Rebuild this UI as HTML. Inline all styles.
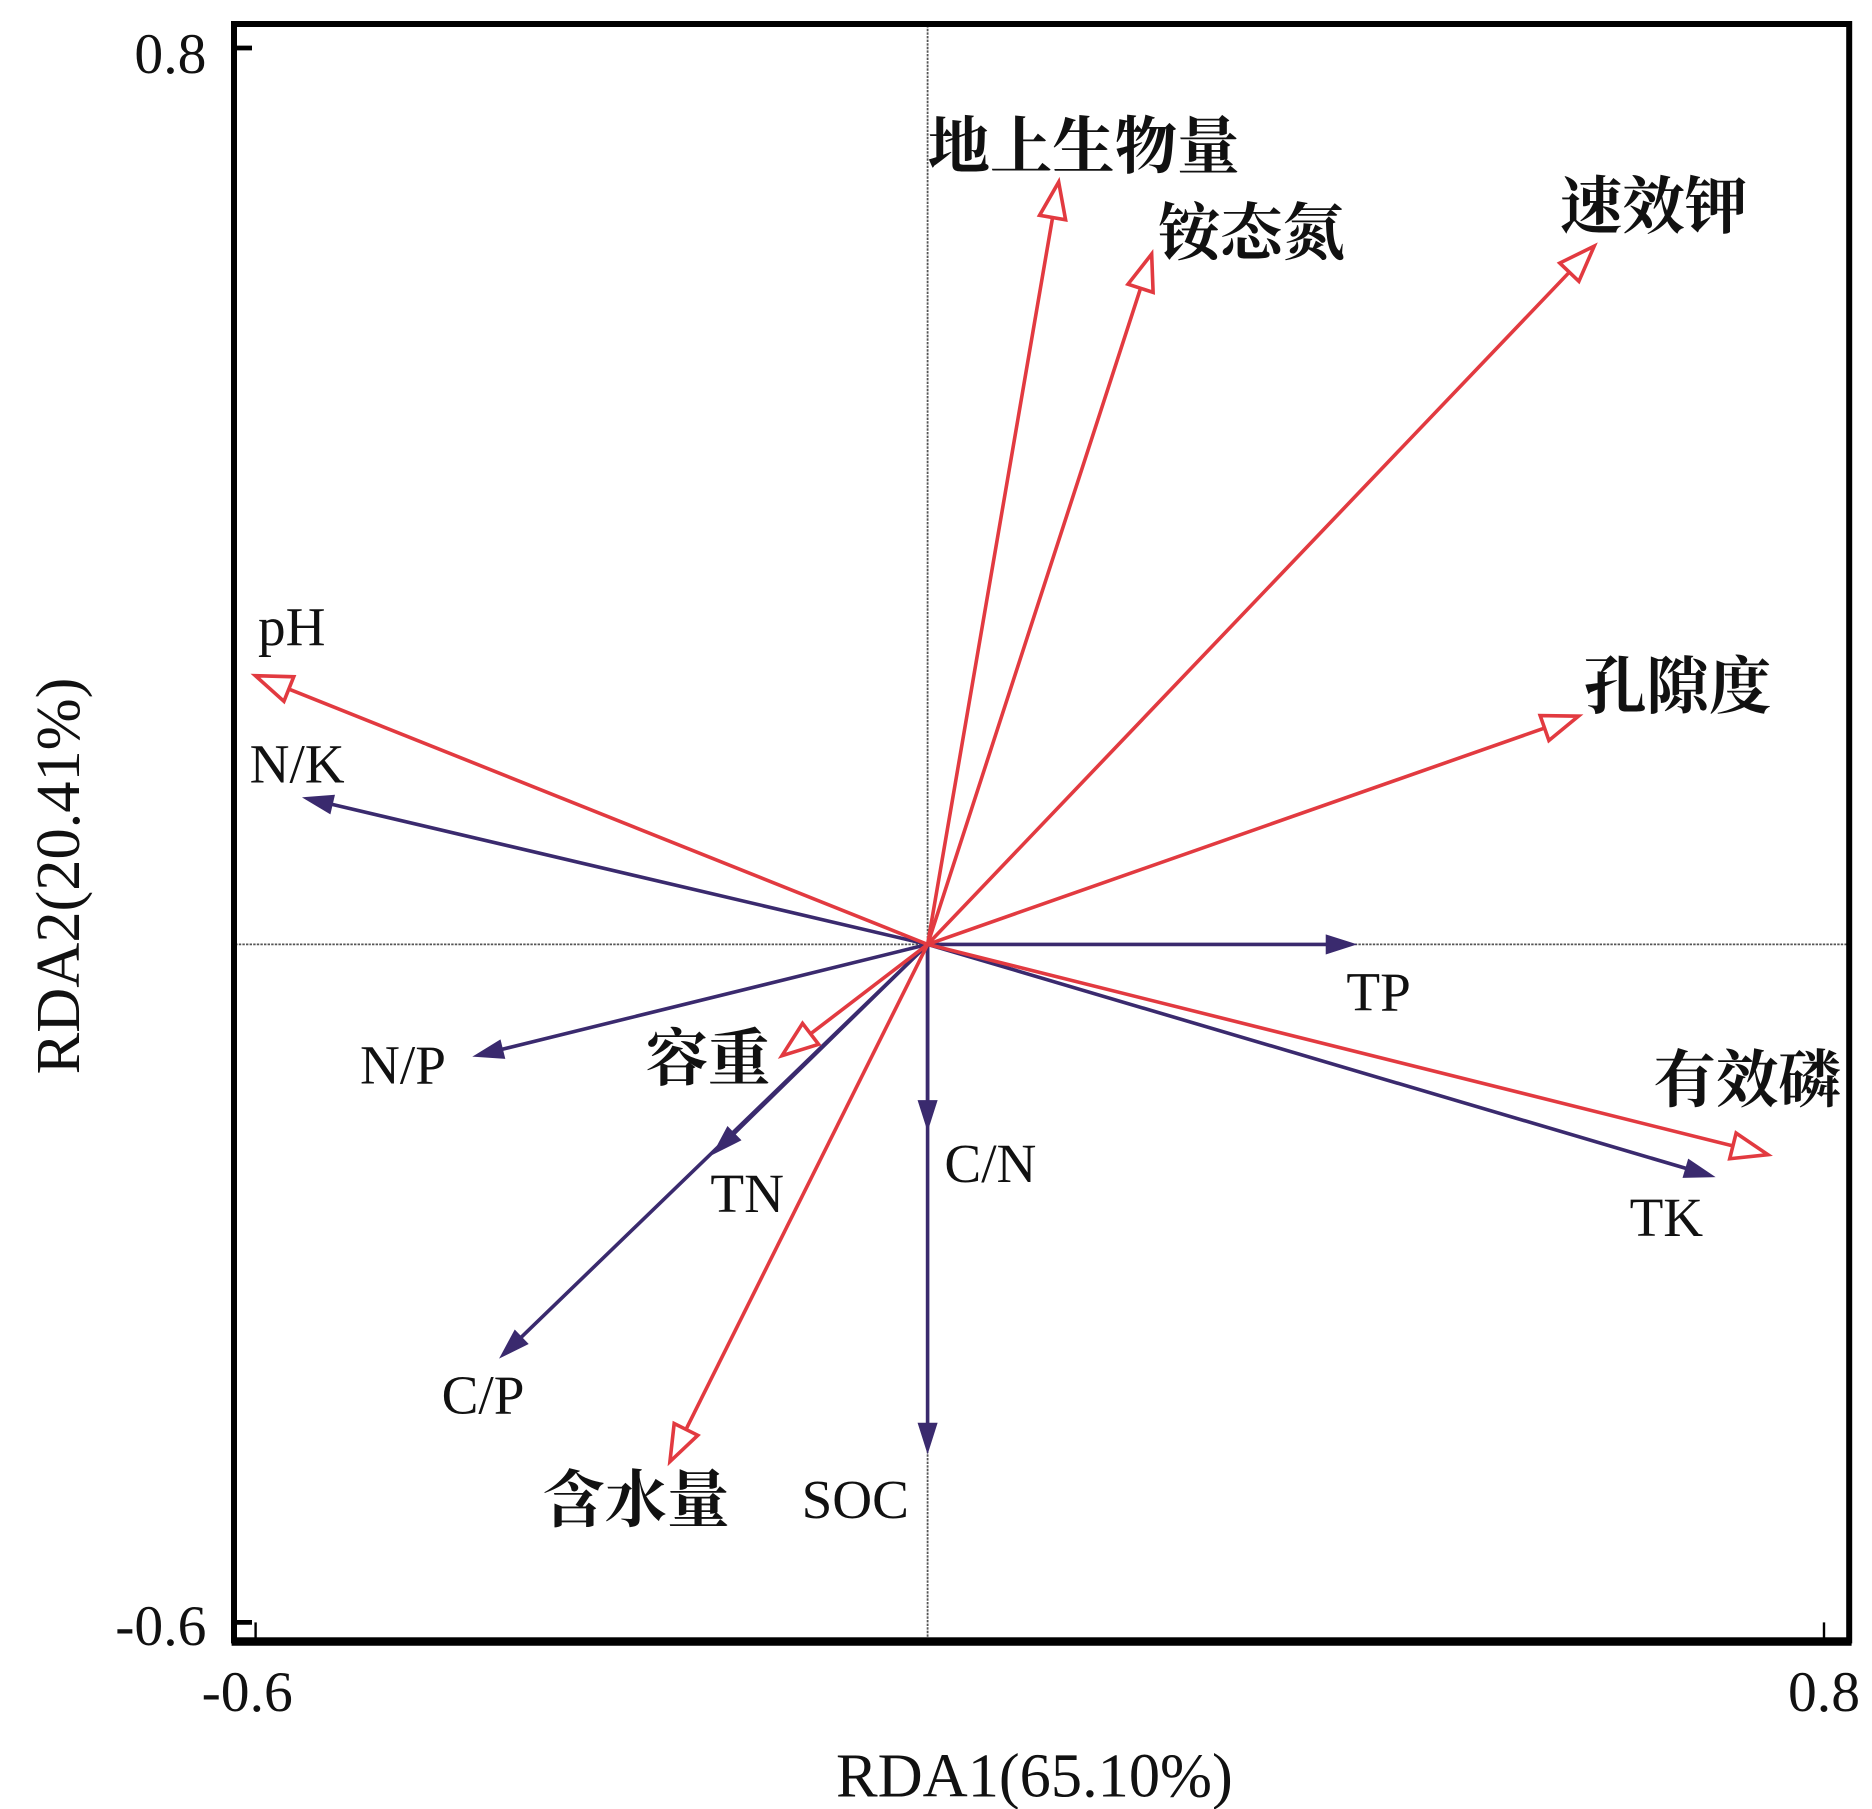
<!DOCTYPE html>
<html><head><meta charset="utf-8"><style>
html,body{margin:0;padding:0;background:#fff}
svg{display:block}
text{font-family:"Liberation Serif","Noto Serif CJK SC",serif;fill:#111}
.cjk{font-family:"Liberation Serif","Noto Serif CJK SC",serif;font-weight:700}
</style></head><body>
<svg id="chart" width="1872" height="1809" viewBox="0 0 1560 1507.5" xmlns="http://www.w3.org/2000/svg">
<g id="frame">
<line x1="773" y1="18" x2="773" y2="1370" stroke="#555" stroke-width="1.5" stroke-dasharray="2,1"/>
<line x1="193" y1="787" x2="1543" y2="787" stroke="#555" stroke-width="1.5" stroke-dasharray="2,1"/>
<rect x="195" y="20" width="1346" height="1347" fill="none" stroke="#000" stroke-width="5"/>
<line x1="193" y1="1368" x2="1543" y2="1368" stroke="#000" stroke-width="7"/>
<line x1="195" y1="40" x2="210" y2="40" stroke="#000" stroke-width="4"/>
<line x1="195" y1="1352" x2="210" y2="1352" stroke="#000" stroke-width="4"/>
<line x1="213" y1="1352" x2="213" y2="1366" stroke="#000" stroke-width="2"/>
<line x1="1520" y1="1352" x2="1520" y2="1366" stroke="#000" stroke-width="2"/>
</g>
<text x="172" y="61" text-anchor="end" font-size="48">0.8</text>
<text x="172" y="1371" text-anchor="end" font-size="48">-0.6</text>
<text x="206" y="1426" text-anchor="middle" font-size="48">-0.6</text>
<text x="1520" y="1426" text-anchor="middle" font-size="48">0.8</text>
<text x="862" y="1497" text-anchor="middle" font-size="52">RDA1(65.10%)</text>
<text transform="translate(66,730) rotate(-90)" text-anchor="middle" font-size="52">RDA2(20.41%)</text>
<g id="arrows"></g>
<g id="labels"></g>
</svg>
<script>
const redNames=["地上生物量","铵态氮","速效钾","孔隙度","pH","有效磷","容重","含水量"];
const redX=[0.117,0.200,0.595,0.581,-0.600,0.750,-0.130,-0.230];
const redY=[0.678,0.614,0.621,0.203,0.239,-0.187,-0.099,-0.460];
const blueNames=["N/K","TP","N/P","TN","C/P","C/N","SOC","TK"];
const blueX=[-0.555,0.380,-0.403,-0.190,-0.380,0.000,0.000,0.700];
const blueY=[0.130,0.000,-0.099,-0.185,-0.366,-0.163,-0.450,-0.206];
const redLab=[[773,140,"start"],[965,212,"start"],[1300,190,"start"],[1320,590,"start"],[215,538,"start"],[1378,918,"start"],[538,900,"start"],[452,1268,"start"]];
const blueLab=[[208,652,"start"],[1122,842,"start"],[300,903,"start"],[592,1010,"start"],[368,1178,"start"],[787,985,"start"],[668,1265,"start"],[1358,1030,"start"]];
const X0=773,Y0=787,SX=933.6,SY=937;
const sx=v=>X0+v*SX, sy=v=>Y0-v*SY;
const NS="http://www.w3.org/2000/svg";
const ag=document.getElementById('arrows'), lg=document.getElementById('labels');
function arrow(x,y,col,hollow,name){
  const tx=sx(x),ty=sy(y);
  const dx=tx-X0,dy=ty-Y0,L=Math.hypot(dx,dy)||1,ux=dx/L,uy=dy/L;
  const hl=hollow?30:22,hw=hollow?11:7;
  const bx=tx-ux*hl,by=ty-uy*hl;
  const ln=document.createElementNS(NS,'line');
  ln.setAttribute('x1',X0);ln.setAttribute('y1',Y0);
  ln.setAttribute('x2',hollow?bx:bx+ux*4);ln.setAttribute('y2',hollow?by:by+uy*4);
  ln.setAttribute('stroke',col);ln.setAttribute('stroke-width',3);
  
  
  ag.appendChild(ln);
  const p=document.createElementNS(NS,'polygon');
  p.setAttribute('points',`${tx},${ty} ${bx-uy*hw},${by+ux*hw} ${bx+uy*hw},${by-ux*hw}`);
  p.setAttribute('fill',hollow?'#fff':col);p.setAttribute('stroke',col);p.setAttribute('stroke-width',hollow?3:2);
  
  
  ag.appendChild(p);
}
function label(pos,txt,cjk){
  const t=document.createElementNS(NS,'text');
  t.setAttribute('x',pos[0]);t.setAttribute('y',pos[1]);t.setAttribute('text-anchor',pos[2]);
  t.setAttribute('font-size',cjk?52:46);
  if(cjk)t.setAttribute('class','cjk');
  t.textContent=txt;
  
  
  lg.appendChild(t);
}
for(let i=0;i<blueNames.length;i++){arrow(blueX[i],blueY[i],'#3a2a6e',false,blueNames[i]);label(blueLab[i],blueNames[i],false);}
for(let i=0;i<redNames.length;i++){arrow(redX[i],redY[i],'#e23a40',true,redNames[i]);label(redLab[i],redNames[i],/[^\x00-\x7f]/.test(redNames[i]));}
</script>
</body></html>
